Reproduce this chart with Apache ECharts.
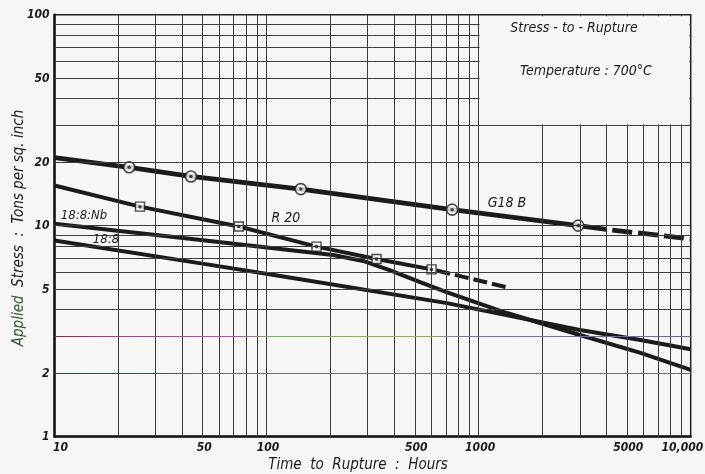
<!DOCTYPE html>
<html>
<head>
<meta charset="UTF-8">
<title>Stress-to-Rupture 700°C</title>
<style>
    html, body {
        margin: 0;
        padding: 0;
        background: #f6f6f4;
    }
    #container {
        width: 705px;
        height: 474px;
    }
</style>
</head>
<body>
<div id="container"></div>
<script src="https://cdn.jsdelivr.net/npm/echarts@6.0.0/dist/echarts.min.js"></script>
<script>
// values: [hours, tons per sq. inch]
var g18bLine = [[10, 21.0], [22.5, 18.9], [44, 17.1], [145, 14.9], [750, 11.9], [2950, 10.0], [4000, 9.6]];
var g18bDash = [[4000, 9.6], [10000, 8.65]];
var g18bPoints = [[22.5, 18.9], [44, 17.1], [145, 14.9], [750, 11.9], [2950, 10.0]];

var r20Line = [[10, 15.5], [25.3, 12.3], [74, 9.9], [172, 7.95], [330, 6.95], [600, 6.2]];
var r20Dash = [[600, 6.2], [1360, 5.1]];
var r20Points = [[25.3, 12.3], [74, 9.9], [172, 7.95], [330, 6.95], [600, 6.2]];

var nbLine = [[10, 10.2], [49, 8.55], [116, 7.75], [206, 7.25], [285, 6.8], [380, 6.15],
              [530, 5.4], [700, 4.85], [1360, 3.85], [3000, 3.03], [5800, 2.49], [10000, 2.07]];
var s188Line = [[10, 8.49], [49, 6.62], [116, 5.77], [710, 4.29], [3000, 3.2], [5800, 2.87], [10000, 2.59]];

// tick labels and grid of the log paper
var xTicks = [10, 50, 100, 500, 1000, 5000, 10000];
var xTickLabels = ['10', '50', '100', '500', '1000', '5000', '10,000'];
var yTicks = [1, 2, 5, 10, 20, 50, 100];
var yTickLabels = ['1', '2', '5', '10', '20', '50', '100'];
var xGrid = [20, 30, 40, 50, 60, 70, 80, 90, 100, 200, 300, 400, 500, 600, 700, 800, 900,
             1000, 2000, 3000, 4000, 5000, 6000, 7000, 8000, 9000];
var yGrid = [2, 3, 4, 5, 6, 7, 8, 9, 10, 20, 30, 40, 50, 60, 70, 80, 90];

var INK = '#1b1b1b';
var BG = '#f6f6f4';
var FONT = '"DejaVu Sans Condensed", "DejaVu Sans", sans-serif';

// the 2 and 3 lines came out coloured on the scan
var line3Color = {
    type: 'linear', x: 0, y: 0, x2: 1, y2: 0,
    colorStops: [
        {offset: 0, color: '#7e2634'},
        {offset: 0.08, color: '#b8307a'},
        {offset: 0.30, color: '#cc48b8'},
        {offset: 0.34, color: '#6cb84a'},
        {offset: 0.58, color: '#8cbc34'},
        {offset: 0.64, color: '#8068c4'},
        {offset: 1, color: '#6e5cb4'}
    ]
};
var line2Color = {
    type: 'linear', x: 0, y: 0, x2: 1, y2: 0,
    colorStops: [
        {offset: 0, color: '#24512c'},
        {offset: 0.16, color: '#2e5a38'},
        {offset: 0.22, color: '#666c86'},
        {offset: 1, color: '#6a6c8c'}
    ]
};

var chart = echarts.init(document.getElementById('container'));

var gridMarks = [];
xGrid.forEach(function (v) {
    gridMarks.push({xAxis: v});
});
yGrid.forEach(function (v) {
    var item = {yAxis: v};
    if (v === 3) item.lineStyle = {color: line3Color, width: 1.2};
    if (v === 2) item.lineStyle = {color: line2Color, width: 1.2};
    gridMarks.push(item);
});

function thickLine(name, data, width, dash, offset) {
    return {
        name: name,
        type: 'line',
        data: data,
        showSymbol: false,
        symbol: 'none',
        z: 3,
        lineStyle: {color: INK, width: width, type: dash || 'solid', dashOffset: offset || 0, cap: 'butt'}
    };
}

var option = {
    backgroundColor: BG,
    animation: false,
    grid: {
        left: 54.5,
        right: 14.3,
        top: 14.7,
        bottom: 37.5,
        show: true,
        borderColor: '#222',
        borderWidth: 1.5,
        backgroundColor: 'transparent'
    },
    xAxis: {
        type: 'log',
        logBase: 10,
        min: 10,
        max: 10000,
        axisLine: {show: true, lineStyle: {color: '#151515', width: 2.5}},
        axisTick: {show: false},
        axisLabel: {show: false},
        splitLine: {show: false}
    },
    yAxis: {
        type: 'log',
        logBase: 10,
        min: 1,
        max: 100,
        axisLine: {show: true, lineStyle: {color: '#151515', width: 2.5}},
        axisTick: {show: false},
        axisLabel: {show: false},
        splitLine: {show: false}
    },
    series: [
        {
            name: 'paper',
            type: 'line',
            data: [],
            z: 1,
            markLine: {
                silent: true,
                symbol: ['none', 'none'],
                label: {show: false},
                lineStyle: {color: '#3c3c3c', width: 1, type: 'solid'},
                emphasis: {disabled: true},
                data: gridMarks
            }
        },
        thickLine('G18B', g18bLine, 4.8),
        thickLine('G18B ext', g18bDash, 4.8, [20, 6], 20),
        thickLine('R20', r20Line, 4),
        thickLine('R20 ext', r20Dash, 4, [14, 5], 14),
        thickLine('18:8:Nb', nbLine, 4),
        thickLine('18:8', s188Line, 4),
        {
            name: 'G18B tests',
            type: 'scatter',
            data: g18bPoints,
            symbol: 'circle',
            symbolSize: 11,
            z: 4,
            itemStyle: {color: '#fbfbfa', borderColor: INK, borderWidth: 1.6}
        },
        {
            name: 'R20 tests',
            type: 'scatter',
            data: r20Points,
            symbol: 'rect',
            symbolSize: 9,
            z: 4,
            itemStyle: {color: '#fbfbfa', borderColor: INK, borderWidth: 1.4}
        },
        {
            name: 'centres',
            type: 'scatter',
            data: g18bPoints.concat(r20Points),
            symbol: 'circle',
            symbolSize: 3.5,
            z: 5,
            itemStyle: {color: INK}
        }
    ]
};

chart.setOption(option);

// labels, annotations and the title box, placed through the axes
function px(v) {
    return chart.convertToPixel({xAxisIndex: 0}, v);
}
function py(v) {
    return chart.convertToPixel({yAxisIndex: 0}, v);
}

function txt(text, x, y, size, align, extra) {
    var el = {
        type: 'text',
        x: x,
        y: y,
        z: 20,
        silent: true,
        style: {
            text: text,
            fill: INK,
            fontFamily: FONT,
            fontStyle: 'italic',
            fontSize: size,
            textAlign: align || 'center',
            textVerticalAlign: 'middle',
            align: align || 'center',
            verticalAlign: 'middle'
        }
    };
    if (extra) {
        for (var k in extra) el.style[k] = extra[k];
    }
    return el;
}

var graphics = [];

xTicks.forEach(function (v, i) {
    var x = px(v);
    var align = 'center';
    if (i === 0) { align = 'left'; x -= 1.5; }
    else if (i === xTicks.length - 1) { align = 'right'; x += 12.5; }
    else { x += 1.5; }
    graphics.push(txt(xTickLabels[i], x, 448, 12, align, {fontWeight: 'bold'}));
});
yTicks.forEach(function (v, i) {
    graphics.push(txt(yTickLabels[i], 49.5, py(v) + 0.5, 12, 'right', {fontWeight: 'bold'}));
});

// blank panel at the upper right that carries the title
var p1 = chart.convertToPixel({gridIndex: 0}, [1000, 100]);
var p2 = chart.convertToPixel({gridIndex: 0}, [10000, 30]);
graphics.push({
    type: 'rect',
    z: 15,
    silent: true,
    shape: {x: p1[0] + 1, y: p1[1] + 1.5, width: p2[0] - p1[0] - 2.5, height: p2[1] - p1[1] - 2},
    style: {fill: BG}
});
graphics.push(txt('Stress - to - Rupture', 574, 28, 14));
graphics.push(txt('Temperature : 700°C', 586, 71, 14));

// curve names
graphics.push(txt('G18 B', 507, 203, 14));
graphics.push(txt('R 20', 286, 218, 14));
graphics.push(txt('18:8:Nb', 84, 216, 13));
graphics.push(txt('18:8', 106, 240, 13));

// axis titles
graphics.push(txt('Time  to  Rupture  :  Hours', 358, 465, 15));
var yTitle = txt('{g|Applied}  Stress  :  Tons per sq. inch', 19, 228, 15);
yTitle.rotation = Math.PI / 2;
yTitle.style.rich = {g: {fill: '#2c5a31', fontFamily: FONT, fontStyle: 'italic', fontSize: 15}};
graphics.push(yTitle);

chart.setOption({graphic: {elements: graphics}});
</script>
</body>
</html>
